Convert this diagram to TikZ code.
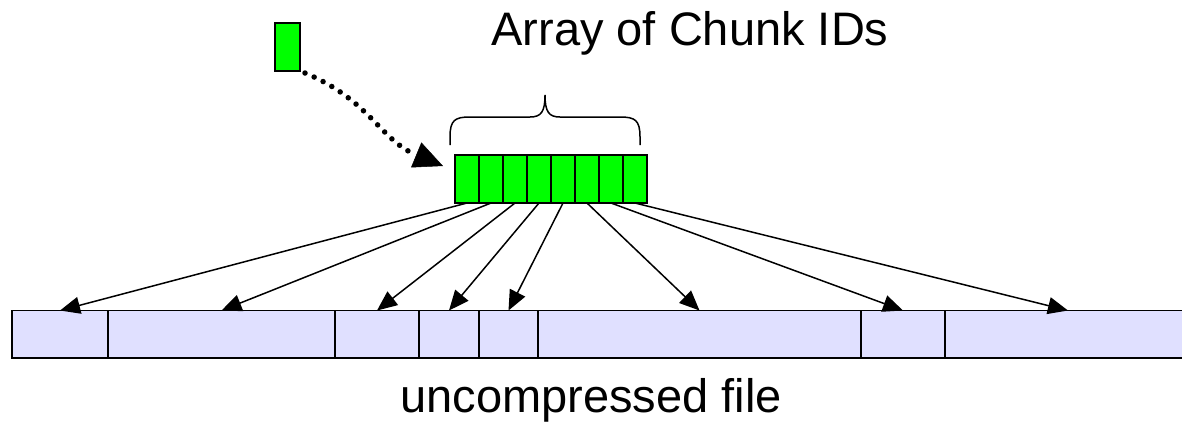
\documentclass[tikz,border=0pt]{standalone}
\usepackage{fontspec}
\setmainfont{Liberation Sans}
\usepackage{xcolor}
\usetikzlibrary{arrows.meta, positioning}
\definecolor{idgreen}{RGB}{0,255,0}
\definecolor{filelilac}{RGB}{224,224,255}
\tikzset{
    chunk/.style={rectangle, draw=black, fill=idgreen, line width=1.5pt, minimum width=24pt, minimum height=48pt, inner sep=0pt, outer sep=0pt},
    piece/.style={rectangle, draw=black, fill=filelilac, line width=1.2pt, minimum height=47.5pt, inner sep=0pt, outer sep=0pt},
    arrow/.style={line width=1.5pt, -{Triangle[length=20pt, width=17pt]}},
    dotarrow/.style={line width=5.5pt, line cap=round, dash pattern=on 0pt off 10pt, -{Triangle[length=29pt, width=27pt, line width=0.5pt]}},
    bracket/.style={line width=1.5pt},
    bigtext/.style={font=\fontsize{47}{56}\selectfont, inner sep=0pt}
}

\begin{document}
\begin{tikzpicture}[x=1pt, y=-1pt]
    \useasboundingbox (0,0) rectangle (1182,424);

    % labels
    \node (title) [bigtext, anchor=base] at (690,45) {Array of Chunk IDs};
    \node (caption) [bigtext, anchor=base] at (591,412) {uncompressed file};

    % one chunk ID
    \node (id) [chunk, minimum width=25pt] at (287.5,47) {};

    % the array
    \foreach \i in {1,...,8}
        \node (c\i) [chunk] at (443+24*\i,179) {};

    % brace over the array
    \draw [bracket] (450,145) -- (450,137) .. controls (450,120) and (455,117) .. (470,117)
        -- (530,117) .. controls (541,117) and (545,112) .. (545,95)
        .. controls (545,112) and (549,117) .. (560,117) -- (620,117)
        .. controls (635,117) and (640,120) .. (640,137) -- (640,145);

    % pieces of the file
    \node (p1) [piece, minimum width=96pt, anchor=north west] at (12,310.5) {};
    \node (p2) [piece, minimum width=227pt, right=0pt of p1] {};
    \node (p3) [piece, minimum width=84pt, right=0pt of p2] {};
    \node (p4) [piece, minimum width=60pt, right=0pt of p3] {};
    \node (p5) [piece, minimum width=59pt, right=0pt of p4] {};
    \node (p6) [piece, minimum width=323pt, right=0pt of p5] {};
    \node (p7) [piece, minimum width=84pt, right=0pt of p6] {};
    \node (p8) [piece, minimum width=246pt, right=0pt of p7] {};

    \foreach \i in {1,...,8}
        \draw [arrow] (c\i.south) -- (p\i.north);

    \draw [dotarrow] ([xshift=5pt, yshift=-2pt]id.south east) .. controls (370,100) and (380,140) .. ([xshift=-12pt, yshift=-11pt]c1.north west);
\end{tikzpicture}
\end{document}
